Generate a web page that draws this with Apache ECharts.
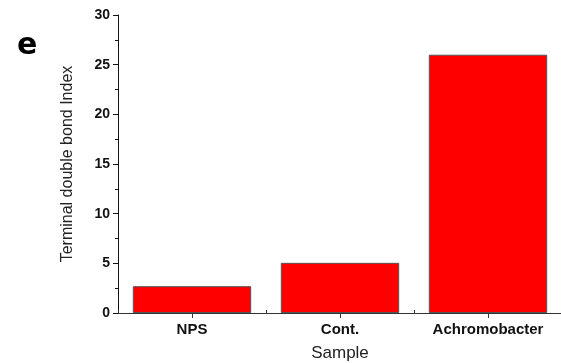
<!DOCTYPE html>
<html>
<head>
<meta charset="utf-8">
<script src="https://cdn.jsdelivr.net/npm/echarts@6/dist/echarts.min.js"></script>
<style>
  html, body { margin: 0; padding: 0; background: #fff; }
  #chart { width: 561px; height: 363px; }
</style>
</head>
<body>
<div id="chart"></div>
<script>
// Sample groups and their terminal double bond index
const categories = ['NPS', 'Cont.', 'Achromobacter'];
const indexValues = [2.7, 5.05, 26];
const yTicks = { min: 0, max: 30, interval: 5 };

const chart = echarts.init(document.getElementById('chart'));
const font = 'Liberation Sans, Arial, sans-serif';

chart.setOption({
  animation: false,
  grid: { left: 118, top: 15, width: 444, height: 298, containLabel: false, outerBoundsMode: 'none' },
  title: {
    text: 'e', left: 12, top: 26,
    textStyle: { fontFamily: 'DejaVu Sans, sans-serif', fontWeight: 'bold', fontSize: 30, color: '#000' }
  },
  xAxis: [{
    type: 'category',
    data: categories,
    name: 'Sample',
    nameLocation: 'middle',
    nameGap: 32,
    nameTextStyle: { fontFamily: font, fontSize: 17, color: '#222' },
    axisLine: { lineStyle: { color: '#333', width: 1 } },
    axisTick: { show: true, alignWithLabel: true, length: 5, lineStyle: { color: '#333' } },
    axisLabel: { fontFamily: font, fontWeight: 'bold', fontSize: 15, color: '#111', margin: 9 }
  }, {
    type: 'category',
    data: categories,
    position: 'bottom',
    axisLine: { show: false },
    axisTick: { show: true, inside: true, length: 3, lineStyle: { color: '#333' } },
    axisLabel: { show: false }
  }],
  yAxis: {
    type: 'value',
    min: yTicks.min, max: yTicks.max, interval: yTicks.interval,
    name: 'Terminal double bond Index',
    nameLocation: 'middle',
    nameGap: 42,
    nameTextStyle: { fontFamily: font, fontSize: 16, color: '#222' },
    axisLine: { show: true, lineStyle: { color: '#111', width: 1 } },
    axisTick: { show: true, length: 5, lineStyle: { color: '#111' } },
    minorTick: { show: true, splitNumber: 2, length: 3, lineStyle: { color: '#111' } },
    splitLine: { show: false },
    axisLabel: { fontFamily: font, fontWeight: 'bold', fontSize: 14, color: '#111', margin: 8 }
  },
  series: [{
    type: 'bar',
    data: indexValues,
    barWidth: '80%',
    itemStyle: { color: '#ff0000', borderColor: '#555', borderWidth: 1 }
  }]
});
</script>
</body>
</html>
